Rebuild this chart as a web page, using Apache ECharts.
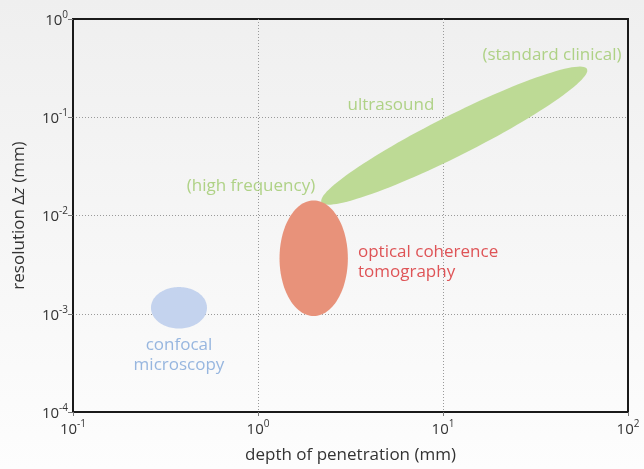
<!DOCTYPE html>
<html>
<head>
<meta charset="utf-8">
<title>Imaging modalities: depth vs resolution</title>
<script src="https://cdn.jsdelivr.net/npm/echarts@6/dist/echarts.min.js"></script>
<style>
  html, body { margin: 0; padding: 0; }
  #chart { width: 644px; height: 469px; }
</style>
</head>
<body>
<div id="chart"></div>
<script>
// Imaging regions, each drawn as an ellipse in log-log space:
// centre point plus the ends of two conjugate semi-axes (depth in mm, resolution in mm).
const regionNames = ['ultrasound', 'optical coherence tomography', 'confocal microscopy'];
const centerDepth = [11.5, 2.0, 0.374];
const centerRes   = [0.065, 0.00367, 0.00115];
const axisADepth  = [60, 3.06, 0.53];
const axisARes    = [0.31, 0.00367, 0.00115];
const axisBDepth  = [12.9, 2.0, 0.374];
const axisBRes    = [0.0425, 0.0142, 0.00187];

// Annotation texts and where they sit (depth, resolution)
const noteText  = ['(standard clinical)', 'ultrasound', '(high frequency)', 'optical coherence\ntomography', 'confocal\nmicroscopy'];
const noteDepth = [38.8, 5.23, 0.916, 3.47, 0.374];
const noteRes   = [0.433, 0.132, 0.0201, 0.00335, 0.000377];

// Decade tick values
const depthTicks = [0.1, 1, 10, 100];
const resTicks = [0.0001, 0.001, 0.01, 0.1, 1];

const regionColors = ['#bdda95', '#e8927a', '#c4d3ee'];
const noteColors = ['#9dc96a', '#9dc96a', '#9dc96a', '#d82a2e', '#7ea5d8'];
const noteAlign = ['center', 'center', 'center', 'left', 'center'];

const FONT = '"Open Sans", "Noto Sans", sans-serif';

function powLabel(v) {
  const e = Math.round(Math.log10(v));
  return '{b|10}{s|' + (e < 0 ? '-' + (-e) : e) + '}';
}
const powRich = {
  b: { fontSize: 15, fontFamily: FONT, color: '#333', lineHeight: 18, verticalAlign: 'bottom' },
  s: { fontSize: 10, fontFamily: FONT, color: '#333', lineHeight: 12, verticalAlign: 'top' }
};

const chart = echarts.init(document.getElementById('chart'), null, { renderer: 'canvas' });

const ellipseData = regionNames.map((n, i) => ({
  name: n,
  value: [centerDepth[i], centerRes[i], axisADepth[i], axisARes[i], axisBDepth[i], axisBRes[i]],
  itemStyle: { color: regionColors[i] }
}));

const noteData = noteText.map((t, i) => ({
  value: [noteDepth[i], noteRes[i]],
  label: {
    formatter: t,
    color: noteColors[i],
    align: noteAlign[i],
    position: noteAlign[i] === 'left' ? 'right' : 'inside',
    distance: 0
  }
}));

const gridLine = { show: true, showMinLine: false, showMaxLine: false, lineStyle: { type: [1, 2], color: '#9a9a9a', width: 1 } };

chart.setOption({
  animation: false,
  backgroundColor: {
    type: 'linear', x: 0, y: 0, x2: 0, y2: 1,
    colorStops: [{ offset: 0, color: '#efefef' }, { offset: 1, color: '#fdfdfd' }]
  },
  grid: {
    left: 73, right: 16, top: 19, bottom: 55,
    show: true, borderColor: '#1a1a1a', borderWidth: 2, backgroundColor: 'transparent'
  },
  xAxis: {
    type: 'log', logBase: 10, min: depthTicks[0], max: depthTicks[depthTicks.length - 1],
    name: 'depth of penetration (mm)', nameLocation: 'middle', nameGap: 35,
    nameTextStyle: { fontSize: 17, fontFamily: FONT, color: '#333' },
    axisLine: { show: true, lineStyle: { color: '#1a1a1a', width: 2 } },
    axisTick: { show: true, length: 4, lineStyle: { color: '#777' } },
    axisLabel: { formatter: powLabel, rich: powRich, margin: 7 },
    splitLine: gridLine
  },
  yAxis: {
    type: 'log', logBase: 10, min: resTicks[0], max: resTicks[resTicks.length - 1],
    name: '{n|resolution Δ}{i|z}{n| (mm)}', nameLocation: 'middle', nameGap: 45,
    nameTextStyle: {
      rich: {
        n: { fontSize: 17, fontFamily: FONT, color: '#333' },
        i: { fontSize: 17, fontFamily: FONT, color: '#333', fontStyle: 'italic' }
      }
    },
    axisLine: { show: true, lineStyle: { color: '#1a1a1a', width: 2 } },
    axisTick: { show: true, length: 5, lineStyle: { color: '#777' } },
    axisLabel: { formatter: powLabel, rich: powRich, margin: 5 },
    splitLine: gridLine
  },
  series: [
    {
      type: 'custom',
      coordinateSystem: 'cartesian2d',
      encode: { x: [0, 2, 4], y: [1, 3, 5] },
      data: ellipseData,
      renderItem: function (params, api) {
        const lc = [Math.log10(api.value(0)), Math.log10(api.value(1))];
        const la = [Math.log10(api.value(2)), Math.log10(api.value(3))];
        const lb = [Math.log10(api.value(4)), Math.log10(api.value(5))];
        const pts = [];
        const N = 120;
        for (let k = 0; k < N; k++) {
          const t = (k / N) * Math.PI * 2;
          const c = Math.cos(t), s = Math.sin(t);
          const lx = lc[0] + (la[0] - lc[0]) * c + (lb[0] - lc[0]) * s;
          const ly = lc[1] + (la[1] - lc[1]) * c + (lb[1] - lc[1]) * s;
          pts.push(api.coord([Math.pow(10, lx), Math.pow(10, ly)]));
        }
        return {
          type: 'polygon',
          shape: { points: pts, smooth: 0 },
          style: { fill: api.visual('color') }
        };
      },
      z: 2
    },
    {
      type: 'scatter',
      symbolSize: 0,
      data: noteData,
      label: {
        show: true,
        fontSize: 17,
        fontFamily: FONT,
        lineHeight: 20
      },
      z: 3
    }
  ]
});
</script>
</body>
</html>
